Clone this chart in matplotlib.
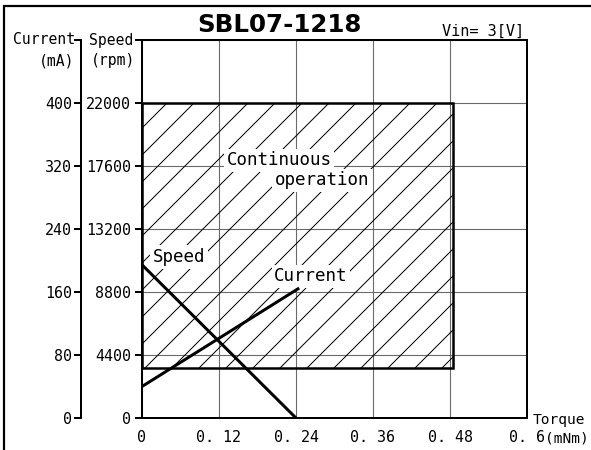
import matplotlib
matplotlib.use("Agg")
import matplotlib.pyplot as plt
from matplotlib.patches import Rectangle
import numpy as np

# ---------------- data ----------------
torque_ticks = [0, 0.12, 0.24, 0.36, 0.48, 0.6]
torque_labels = ["0", "0. 12", "0. 24", "0. 36", "0. 48", "0. 6"]
speed_ticks = [0, 4400, 8800, 13200, 17600, 22000, 26400]
speed_labels = ["0", "4400", "8800", "13200", "17600", "22000", ""]
current_ticks = [0, 80, 160, 240, 320, 400, 480]
current_labels = ["0", "80", "160", "240", "320", "400", ""]

speed_torque = [0, 0.24]
speed_rpm = [10700, 0]
current_torque = [0, 0.245]
current_ma = [40, 165]

cont_torque = [0, 0.485]
cont_speed = [3500, 22000]

# ---------------- figure ----------------
DPI = 162
W, H = 591, 450
def pt(px):
    return px * 72.0 / DPI

mono = ["DejaVu Sans Mono"]
sans = ["DejaVu Sans"]
TICK = pt(15)

fig = plt.figure(figsize=(W / DPI, H / DPI), dpi=DPI)
plt.rcParams['hatch.linewidth'] = pt(1.0)

ax = fig.add_axes([142 / W, 32 / H, 385 / W, 378 / H])
ax.set_xlim(0, 0.6)
ax.set_ylim(0, 26400)

for s in ax.spines.values():
    s.set_linewidth(pt(2))
    s.set_color("black")

ax.set_xticks(torque_ticks)
ax.set_xticklabels(torque_labels, family=mono, fontsize=TICK)
ax.tick_params(axis="x", which="major", length=0, pad=pt(12))
ax.set_xticks([torque_ticks[0], torque_ticks[-1]], minor=True)
ax.tick_params(axis="x", which="minor", length=pt(6), width=pt(2), direction="out")

ax.set_yticks(speed_ticks)
ax.set_yticklabels(speed_labels, family=mono, fontsize=TICK)
ax.tick_params(axis="y", which="major", length=pt(7), width=pt(2), direction="out", pad=pt(4))

ax.grid(True, which="major", color="#6a6a6a", linewidth=pt(1.1))
ax.set_axisbelow(True)

# continuous operation region
rect = Rectangle((cont_torque[0], cont_speed[0]), cont_torque[1] - cont_torque[0],
                 cont_speed[1] - cont_speed[0], fill=False, hatch="//",
                 edgecolor="black", linewidth=pt(2.5), zorder=2)
ax.add_patch(rect)

# curves
ax.plot(speed_torque, speed_rpm, color="black", linewidth=pt(3), zorder=5,
        solid_capstyle="butt", clip_on=False)
ax2 = ax.twinx()
ax2.set_ylim(0, 480)
ax2.plot(current_torque, current_ma, color="black", linewidth=pt(3), zorder=5,
         solid_capstyle="butt")
for name in ["top", "right", "bottom"]:
    ax2.spines[name].set_visible(False)
ax2.spines["left"].set_position(("axes", (81 - 142) / 385))
ax2.spines["left"].set_linewidth(pt(2))
ax2.yaxis.set_ticks_position("left")
ax2.yaxis.set_label_position("left")
ax2.set_yticks(current_ticks)
ax2.set_yticklabels(current_labels, family=mono, fontsize=TICK)
ax2.tick_params(axis="y", length=pt(7), width=pt(2), direction="out", pad=pt(2))

# in-plot labels
bb = dict(facecolor="white", edgecolor="none", pad=1.2)
ax.text(0.132, 18000, "Continuous", family=mono, fontsize=pt(17.5),
        ha="left", va="center", bbox=bb, zorder=4)
ax.text(0.207, 16600, "operation", family=mono, fontsize=pt(17.5),
        ha="left", va="center", bbox=bb, zorder=4)
ax.text(0.017, 11250, "Speed", family=mono, fontsize=pt(17.5),
        ha="left", va="center", bbox=bb, zorder=4)
ax.text(0.206, 9900, "Current", family=mono, fontsize=pt(17.5),
        ha="left", va="center", bbox=bb, zorder=4)

# figure-level texts (pixel positions)
def fp(x, y):
    return x / W, 1 - y / H

fig.text(*fp(75, 40), "Current", family=mono, fontsize=pt(14.8), ha="right", va="center")
fig.text(*fp(74, 61), "(mA)", family=mono, fontsize=pt(14.8), ha="right", va="center")
fig.text(*fp(133, 40), "Speed", family=mono, fontsize=pt(14.8), ha="right", va="center")
fig.text(*fp(135, 61), "(rpm)", family=mono, fontsize=pt(14.8), ha="right", va="center")
fig.text(*fp(533, 420), "Torque", family=mono, fontsize=pt(14.5), ha="left", va="center")
fig.text(*fp(545, 438), "(mNm)", family=mono, fontsize=pt(14.5), ha="left", va="center")
fig.text(*fp(279, 25), "SBL07-1218", family=sans, fontweight="bold",
         fontsize=pt(24.5), ha="center", va="center")
fig.text(*fp(442, 31), "Vin= 3[V]", family=mono, fontsize=pt(15.3), ha="left", va="center")

# figure border (top & left visible)
border = Rectangle((4 / W, -0.1), 1.2, 1.1 - 6 / H, transform=fig.transFigure,
                   fill=False, edgecolor="black", linewidth=pt(2.2))
fig.patches.append(border)

fig.savefig("out.png", dpi=DPI, facecolor="white")
